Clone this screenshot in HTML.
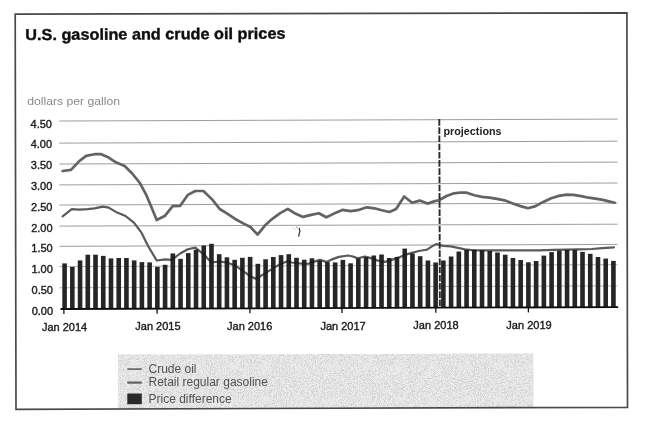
<!DOCTYPE html>
<html><head><meta charset="utf-8"><title>U.S. gasoline and crude oil prices</title>
<style>html,body{margin:0;padding:0;background:#ffffff;}body{width:655px;height:421px;overflow:hidden;}svg{display:block;}text{font-family:"Liberation Sans",sans-serif;}</style></head><body>
<svg width="655" height="421" viewBox="0 0 655 421">
<defs><filter id="nz" x="0" y="0" width="100%" height="100%"><feTurbulence type="fractalNoise" baseFrequency="0.97" numOctaves="2" seed="11" result="t"/><feColorMatrix in="t" type="matrix" values="0 0 0 0 0.5  0 0 0 0 0.5  0 0 0 0 0.5  7 0 0 0 -3.3"/><feComposite in2="SourceGraphic" operator="in"/></filter>
<filter id="bl"><feGaussianBlur stdDeviation="0.3"/></filter><filter id="bb"><feGaussianBlur stdDeviation="0.75 0.4"/></filter></defs>
<rect width="655" height="421" fill="#ffffff"/>
<g filter="url(#bl)">
<polygon points="118.1,354.6 533.4,353.5 533.4,407.6 118.1,408.9" fill="#ececec"/>
<polygon points="118.1,354.6 533.4,353.5 533.4,407.6 118.1,408.9" fill="#888" filter="url(#nz)" opacity="0.5"/>
<polygon points="15.2,14.2 626.9,12.8 627.5,407.3 16.0,409.3" fill="none" stroke="#4a4a4a" stroke-width="1.7"/>
<text x="25.3" y="40.1" font-size="15.7" textLength="260.2" lengthAdjust="spacingAndGlyphs" font-weight="bold" fill="#111" stroke="#111" stroke-width="0.4" transform="rotate(-0.3 25.3 40.1)">U.S. gasoline and crude oil prices</text>
<text x="27.2" y="105.3" font-size="11.8" textLength="92.8" lengthAdjust="spacingAndGlyphs" fill="#8a8a8a">dollars per gallon</text>
</g>
<line x1="59.3" y1="121.00" x2="617.5" y2="119.10" stroke="#7c7c7c" stroke-width="0.75"/>
<line x1="59.3" y1="143.10" x2="617.5" y2="141.20" stroke="#7c7c7c" stroke-width="0.75"/>
<line x1="59.3" y1="164.00" x2="617.5" y2="162.10" stroke="#7c7c7c" stroke-width="0.75"/>
<line x1="59.3" y1="184.90" x2="617.5" y2="183.00" stroke="#7c7c7c" stroke-width="0.75"/>
<line x1="59.3" y1="205.00" x2="617.5" y2="203.10" stroke="#7c7c7c" stroke-width="0.75"/>
<line x1="59.3" y1="226.10" x2="617.5" y2="224.20" stroke="#7c7c7c" stroke-width="0.75"/>
<line x1="59.3" y1="246.30" x2="617.5" y2="244.40" stroke="#7c7c7c" stroke-width="0.75"/>
<line x1="59.3" y1="266.60" x2="617.5" y2="264.70" stroke="#9a9a9a" stroke-width="0.75"/>
<line x1="59.3" y1="287.80" x2="617.5" y2="285.90" stroke="#9a9a9a" stroke-width="0.75"/>
<g filter="url(#bl)">
<text x="52.00" y="128.3" font-size="11" text-anchor="end" fill="#1c1c1c" stroke="#1c1c1c" stroke-width="0.38">4.50</text>
<text x="52.12" y="147.8" font-size="11" text-anchor="end" fill="#1c1c1c" stroke="#1c1c1c" stroke-width="0.38">4.00</text>
<text x="52.24" y="168.9" font-size="11" text-anchor="end" fill="#1c1c1c" stroke="#1c1c1c" stroke-width="0.38">3.50</text>
<text x="52.37" y="190.3" font-size="11" text-anchor="end" fill="#1c1c1c" stroke="#1c1c1c" stroke-width="0.38">3.00</text>
<text x="52.49" y="211.3" font-size="11" text-anchor="end" fill="#1c1c1c" stroke="#1c1c1c" stroke-width="0.38">2.50</text>
<text x="52.61" y="231.6" font-size="11" text-anchor="end" fill="#1c1c1c" stroke="#1c1c1c" stroke-width="0.38">2.00</text>
<text x="52.73" y="251.6" font-size="11" text-anchor="end" fill="#1c1c1c" stroke="#1c1c1c" stroke-width="0.38">1.50</text>
<text x="52.86" y="273.1" font-size="11" text-anchor="end" fill="#1c1c1c" stroke="#1c1c1c" stroke-width="0.38">1.00</text>
<text x="52.98" y="293.5" font-size="11" text-anchor="end" fill="#1c1c1c" stroke="#1c1c1c" stroke-width="0.38">0.50</text>
<text x="53.10" y="314.5" font-size="11" text-anchor="end" fill="#1c1c1c" stroke="#1c1c1c" stroke-width="0.38">0.00</text>
<polyline points="62.6,216.3 71.8,209.2 79.3,209.6 87.7,209.2 94.5,208.4 102.9,206.7 108.7,207.6 117.1,212.6 125.5,216.0 133.9,222.7 141.5,232.7 148.2,246.2 156.7,260.5 165.1,259.3 171.8,259.9 180.2,253.5 187.8,249.3 195.3,247.6 203.7,254.3 211.3,262.5 219.7,261.5 227.2,262.7 234.8,265.2 243.2,271.1 250.5,276.3 255,278.6 258.5,277.4 265,273.4 273,268.4 280.4,264.0 286.9,261.5 291.9,262.5 295.9,263.0 303.8,263.8 309,263.6 315,261.4 320,259.9 326.4,261.9 331.9,259.4 338.9,256.9 347.9,255.5 352.9,256.5 357.8,258.4 364.8,256.5 370,257.9 377,260.4 385,261.9 391.9,259.9 398.9,257.4 404.9,254.9 411.9,252.9 418.8,251.0 424.8,250.0 427,249.7 432,246.4 436.5,244.0 442.9,245.9 450.9,246.4 457.9,247.9 464.9,249.4 471.8,250.1 479.8,250.4 490,250.4 510,250.4 530,250.3 540,250.3 553,249.9 566,249.7 579,249.4 591.9,249.0 602.3,248.1 614,247.3" fill="none" stroke="#5a5a5a" stroke-width="2.2" stroke-linejoin="round" stroke-linecap="round"/>
<g filter="url(#bb)">
<rect x="62.30" y="263.40" width="4.6" height="45.89" fill="#1c1c1c" opacity="0.96"/>
<rect x="70.03" y="266.90" width="4.6" height="42.36" fill="#1c1c1c" opacity="0.96"/>
<rect x="77.76" y="260.40" width="4.6" height="48.83" fill="#1c1c1c" opacity="0.96"/>
<rect x="85.49" y="254.70" width="4.6" height="54.51" fill="#1c1c1c" opacity="0.96"/>
<rect x="93.22" y="254.70" width="4.6" height="54.48" fill="#1c1c1c" opacity="0.96"/>
<rect x="100.95" y="255.90" width="4.6" height="53.25" fill="#1c1c1c" opacity="0.96"/>
<rect x="108.68" y="258.40" width="4.6" height="50.73" fill="#1c1c1c" opacity="0.96"/>
<rect x="116.41" y="258.00" width="4.6" height="51.10" fill="#1c1c1c" opacity="0.96"/>
<rect x="124.14" y="258.00" width="4.6" height="51.08" fill="#1c1c1c" opacity="0.96"/>
<rect x="131.87" y="260.40" width="4.6" height="48.65" fill="#1c1c1c" opacity="0.96"/>
<rect x="139.60" y="262.10" width="4.6" height="46.92" fill="#1c1c1c" opacity="0.96"/>
<rect x="147.33" y="262.40" width="4.6" height="46.60" fill="#1c1c1c" opacity="0.96"/>
<rect x="155.06" y="266.80" width="4.6" height="42.17" fill="#1c1c1c" opacity="0.96"/>
<rect x="162.79" y="264.80" width="4.6" height="44.14" fill="#1c1c1c" opacity="0.96"/>
<rect x="170.52" y="253.40" width="4.6" height="55.52" fill="#1c1c1c" opacity="0.96"/>
<rect x="178.25" y="258.90" width="4.6" height="49.99" fill="#1c1c1c" opacity="0.96"/>
<rect x="185.98" y="253.10" width="4.6" height="55.77" fill="#1c1c1c" opacity="0.96"/>
<rect x="193.71" y="249.70" width="4.6" height="59.14" fill="#1c1c1c" opacity="0.96"/>
<rect x="201.44" y="245.50" width="4.6" height="63.31" fill="#1c1c1c" opacity="0.96"/>
<rect x="209.17" y="243.80" width="4.6" height="64.99" fill="#1c1c1c" opacity="0.96"/>
<rect x="216.90" y="254.20" width="4.6" height="54.56" fill="#1c1c1c" opacity="0.96"/>
<rect x="224.63" y="257.30" width="4.6" height="51.43" fill="#1c1c1c" opacity="0.96"/>
<rect x="232.36" y="259.80" width="4.6" height="48.91" fill="#1c1c1c" opacity="0.96"/>
<rect x="240.09" y="257.80" width="4.6" height="50.88" fill="#1c1c1c" opacity="0.96"/>
<rect x="247.82" y="256.90" width="4.6" height="51.76" fill="#1c1c1c" opacity="0.96"/>
<rect x="255.55" y="263.80" width="4.6" height="44.83" fill="#1c1c1c" opacity="0.96"/>
<rect x="263.28" y="259.30" width="4.6" height="49.30" fill="#1c1c1c" opacity="0.96"/>
<rect x="271.01" y="257.00" width="4.6" height="51.58" fill="#1c1c1c" opacity="0.96"/>
<rect x="278.74" y="255.10" width="4.6" height="53.45" fill="#1c1c1c" opacity="0.96"/>
<rect x="286.47" y="254.20" width="4.6" height="54.32" fill="#1c1c1c" opacity="0.96"/>
<rect x="294.20" y="257.80" width="4.6" height="50.70" fill="#1c1c1c" opacity="0.96"/>
<rect x="301.93" y="259.70" width="4.6" height="48.77" fill="#1c1c1c" opacity="0.96"/>
<rect x="309.66" y="258.30" width="4.6" height="50.15" fill="#1c1c1c" opacity="0.96"/>
<rect x="317.39" y="260.40" width="4.6" height="48.02" fill="#1c1c1c" opacity="0.96"/>
<rect x="325.12" y="262.10" width="4.6" height="46.29" fill="#1c1c1c" opacity="0.96"/>
<rect x="332.85" y="262.40" width="4.6" height="45.97" fill="#1c1c1c" opacity="0.96"/>
<rect x="340.58" y="259.90" width="4.6" height="48.44" fill="#1c1c1c" opacity="0.96"/>
<rect x="348.31" y="263.30" width="4.6" height="45.01" fill="#1c1c1c" opacity="0.96"/>
<rect x="356.04" y="258.60" width="4.6" height="49.69" fill="#1c1c1c" opacity="0.96"/>
<rect x="363.77" y="257.10" width="4.6" height="51.16" fill="#1c1c1c" opacity="0.96"/>
<rect x="371.50" y="255.50" width="4.6" height="52.73" fill="#1c1c1c" opacity="0.96"/>
<rect x="379.23" y="254.50" width="4.6" height="53.71" fill="#1c1c1c" opacity="0.96"/>
<rect x="386.96" y="258.00" width="4.6" height="50.18" fill="#1c1c1c" opacity="0.96"/>
<rect x="394.69" y="257.00" width="4.6" height="51.16" fill="#1c1c1c" opacity="0.96"/>
<rect x="402.42" y="248.60" width="4.6" height="59.53" fill="#1c1c1c" opacity="0.96"/>
<rect x="410.15" y="253.50" width="4.6" height="54.60" fill="#1c1c1c" opacity="0.96"/>
<rect x="417.88" y="256.20" width="4.6" height="51.88" fill="#1c1c1c" opacity="0.96"/>
<rect x="425.61" y="260.50" width="4.6" height="47.55" fill="#1c1c1c" opacity="0.96"/>
<rect x="433.34" y="262.50" width="4.6" height="45.52" fill="#1c1c1c" opacity="0.96"/>
<rect x="441.07" y="260.50" width="4.6" height="47.50" fill="#1c1c1c" opacity="0.96"/>
<rect x="448.80" y="256.50" width="4.6" height="51.47" fill="#1c1c1c" opacity="0.96"/>
<rect x="456.53" y="251.50" width="4.6" height="56.45" fill="#1c1c1c" opacity="0.96"/>
<rect x="464.26" y="249.70" width="4.6" height="58.22" fill="#1c1c1c" opacity="0.96"/>
<rect x="471.99" y="249.70" width="4.6" height="58.19" fill="#1c1c1c" opacity="0.96"/>
<rect x="479.72" y="250.20" width="4.6" height="57.67" fill="#1c1c1c" opacity="0.96"/>
<rect x="487.45" y="251.00" width="4.6" height="56.84" fill="#1c1c1c" opacity="0.96"/>
<rect x="495.18" y="252.50" width="4.6" height="55.31" fill="#1c1c1c" opacity="0.96"/>
<rect x="502.91" y="254.70" width="4.6" height="53.09" fill="#1c1c1c" opacity="0.96"/>
<rect x="510.64" y="258.00" width="4.6" height="49.76" fill="#1c1c1c" opacity="0.96"/>
<rect x="518.37" y="260.00" width="4.6" height="47.74" fill="#1c1c1c" opacity="0.96"/>
<rect x="526.10" y="262.30" width="4.6" height="45.41" fill="#1c1c1c" opacity="0.96"/>
<rect x="533.83" y="261.00" width="4.6" height="46.68" fill="#1c1c1c" opacity="0.96"/>
<rect x="541.56" y="255.60" width="4.6" height="52.06" fill="#1c1c1c" opacity="0.96"/>
<rect x="549.29" y="252.10" width="4.6" height="55.53" fill="#1c1c1c" opacity="0.96"/>
<rect x="557.02" y="250.60" width="4.6" height="57.00" fill="#1c1c1c" opacity="0.96"/>
<rect x="564.75" y="249.90" width="4.6" height="57.68" fill="#1c1c1c" opacity="0.96"/>
<rect x="572.48" y="249.90" width="4.6" height="57.65" fill="#1c1c1c" opacity="0.96"/>
<rect x="580.21" y="251.90" width="4.6" height="55.63" fill="#1c1c1c" opacity="0.96"/>
<rect x="587.94" y="253.80" width="4.6" height="53.70" fill="#1c1c1c" opacity="0.96"/>
<rect x="595.67" y="257.00" width="4.6" height="50.47" fill="#1c1c1c" opacity="0.96"/>
<rect x="603.40" y="258.60" width="4.6" height="48.85" fill="#1c1c1c" opacity="0.96"/>
<rect x="611.13" y="260.90" width="4.6" height="46.52" fill="#1c1c1c" opacity="0.96"/>
</g>
<polyline points="62.6,171.0 71.0,169.9 78.5,161.8 86.1,155.9 94.5,154.2 101.2,154.2 108.7,157.6 116.3,162.6 124.7,166.0 132.2,173.5 139.8,182.8 146.5,195.4 152.0,208.5 156.7,220.0 165.1,215.7 172.7,206.1 180.2,205.8 187.8,194.9 195.3,191.0 203.4,191.0 212.1,199.4 219.7,209.0 227.2,213.7 234.8,218.7 243.2,223.4 250.4,227.0 257.6,234.6 265.1,225.3 272.7,218.6 280.2,213.1 287.8,208.9 295.3,213.6 302.9,216.9 311.3,214.9 318.8,213.2 326.4,217.3 334.0,213.6 342.4,209.9 350.8,211.1 359.2,209.8 366.8,207.3 374.3,208.3 381.9,210.3 389.4,212.0 396.1,209.0 404.2,196.5 412.1,202.7 419.7,200.6 427.5,203.6 434.8,201.1 439,200.2 446.5,196.0 454.1,193.3 460.5,192.5 466.8,192.7 474.3,195.2 481.9,196.9 489.4,197.7 497,198.9 504.5,200.3 512.1,203.3 520.5,206.1 528.0,208.3 535.6,206.1 543.2,201.9 551.2,198.2 558.8,195.9 566.8,194.7 573.5,194.9 581.1,196.1 588.7,197.7 595.4,198.6 602.9,199.9 609.7,201.6 614.7,202.8" fill="none" stroke="#636363" stroke-width="2.7" stroke-linejoin="round" stroke-linecap="round"/>
<line x1="439.3" y1="119.1" x2="439.9" y2="308" stroke="#2a2a2a" stroke-width="1.9" stroke-dasharray="6.6 1.6"/>
<text x="443.4" y="135.2" font-size="10.8" font-weight="bold" fill="#222">projections</text>
<path d="M299.3 228.4 L299.9 231.5 L299.2 233.6 L298.7 236.2" fill="none" stroke="#3a3a3a" stroke-width="1.3" stroke-linecap="round"/><path d="M296 226.8 L297.8 228.3" stroke="#777" stroke-width="0.8"/><path d="M293 227.5 L295.5 230.2" stroke="#c8c8c8" stroke-width="0.8"/>
<line x1="60.5" y1="309.00" x2="618.2" y2="307.10" stroke="#111" stroke-width="1.8"/>
<line x1="63.9" y1="308.99" x2="63.9" y2="313.99" stroke="#111" stroke-width="1.3"/>
<line x1="157.1" y1="308.67" x2="157.1" y2="313.67" stroke="#111" stroke-width="1.3"/>
<line x1="249.9" y1="308.36" x2="249.9" y2="313.36" stroke="#111" stroke-width="1.3"/>
<line x1="342.0" y1="308.04" x2="342.0" y2="313.04" stroke="#111" stroke-width="1.3"/>
<line x1="435.8" y1="307.72" x2="435.8" y2="312.72" stroke="#111" stroke-width="1.3"/>
<line x1="528.4" y1="307.41" x2="528.4" y2="312.41" stroke="#111" stroke-width="1.3"/>
<text x="64.6" y="330.6" font-size="11" text-anchor="middle" fill="#1c1c1c" stroke="#1c1c1c" stroke-width="0.38">Jan 2014</text>
<text x="157.9" y="330.2" font-size="11" text-anchor="middle" fill="#1c1c1c" stroke="#1c1c1c" stroke-width="0.38">Jan 2015</text>
<text x="249.7" y="329.9" font-size="11" text-anchor="middle" fill="#1c1c1c" stroke="#1c1c1c" stroke-width="0.38">Jan 2016</text>
<text x="343.1" y="329.5" font-size="11" text-anchor="middle" fill="#1c1c1c" stroke="#1c1c1c" stroke-width="0.38">Jan 2017</text>
<text x="436.0" y="329.2" font-size="11" text-anchor="middle" fill="#1c1c1c" stroke="#1c1c1c" stroke-width="0.38">Jan 2018</text>
<text x="529.0" y="328.8" font-size="11" text-anchor="middle" fill="#1c1c1c" stroke="#1c1c1c" stroke-width="0.38">Jan 2019</text>
<line x1="127.3" y1="369.1" x2="141.8" y2="369.1" stroke="#5f5f5f" stroke-width="1.6"/>
<line x1="127.3" y1="382.6" x2="141.8" y2="382.6" stroke="#666" stroke-width="2.3"/>
<rect x="127.3" y="393.5" width="14.5" height="10.7" fill="#2a2a2a"/>
<text x="148.5" y="372.8" font-size="12" fill="#525252">Crude oil</text>
<text x="148.5" y="386.3" font-size="12" fill="#525252">Retail regular gasoline</text>
<text x="148.5" y="403.1" font-size="12" fill="#525252">Price difference</text>
</g>
</svg></body></html>
